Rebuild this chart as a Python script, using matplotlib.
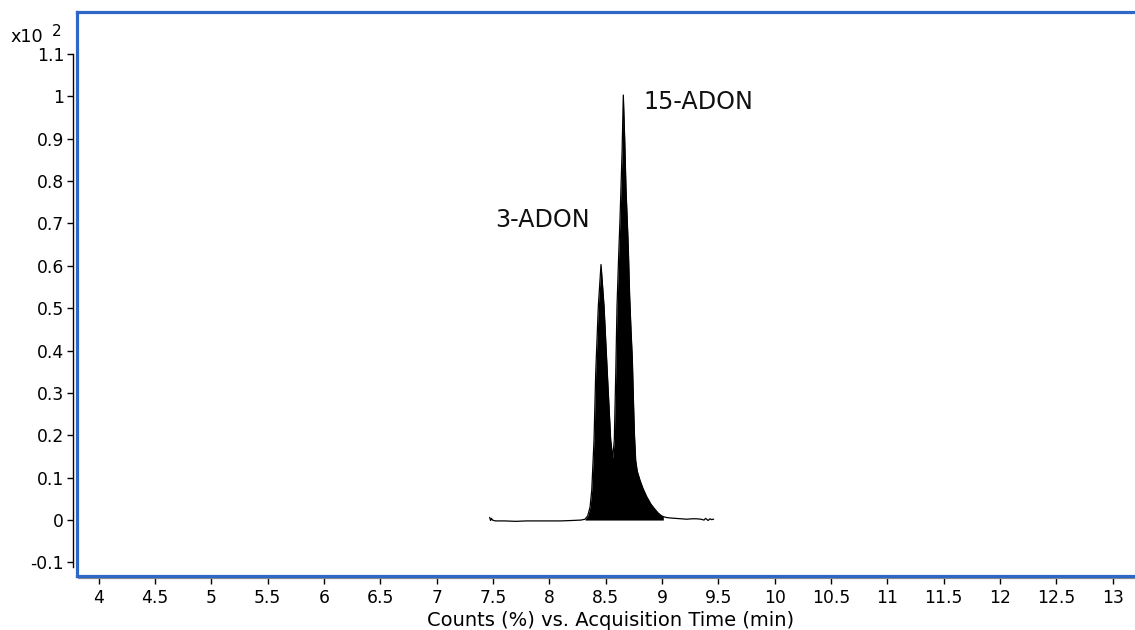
import matplotlib
matplotlib.use("Agg")
import matplotlib.pyplot as plt
from matplotlib.lines import Line2D
import numpy as np

plt.rcParams['font.family'] = ['DejaVu Sans']

# Chromatogram trace (acquisition time in min, counts in x10^2 %)
time_min = [7.470, 7.478, 7.486, 7.495, 7.520, 7.600, 7.700, 7.800, 7.900, 8.000,
            8.100, 8.200, 8.280, 8.316, 8.340, 8.361, 8.376, 8.396, 8.411, 8.434,
            8.458, 8.485, 8.514, 8.544, 8.562, 8.576, 8.589, 8.600, 8.615, 8.627,
            8.645, 8.656, 8.668, 8.680, 8.692, 8.700, 8.712, 8.724, 8.736, 8.746,
            8.755, 8.766, 8.780, 8.804, 8.830, 8.864, 8.900, 8.935, 8.964, 8.990,
            9.011, 9.040, 9.071, 9.120, 9.170, 9.219, 9.265, 9.308, 9.345, 9.373,
            9.386, 9.396, 9.408, 9.426, 9.440, 9.456]
counts = [0.006, -0.001, 0.004, 0.000, -0.002, -0.002, -0.003, -0.002, -0.002, -0.002,
          -0.002, -0.001, 0.000, 0.002, 0.010, 0.031, 0.071, 0.189, 0.347, 0.504,
          0.603, 0.504, 0.347, 0.189, 0.146, 0.189, 0.347, 0.504, 0.626, 0.713,
          0.869, 1.003, 0.900, 0.780, 0.700, 0.645, 0.530, 0.450, 0.380, 0.280,
          0.200, 0.140, 0.115, 0.094, 0.075, 0.055, 0.038, 0.026, 0.017, 0.011,
          0.008, 0.006, 0.005, 0.004, 0.003, 0.002, 0.003, 0.003, 0.002, 0.000,
          0.004, 0.002, -0.001, 0.003, 0.001, 0.002]
fill_start, fill_end = 8.316, 9.011

peak_names = ["3-ADON", "15-ADON"]
label_x = [7.943, 9.319]
label_y = [0.708, 0.987]

x_ticks = [4, 4.5, 5, 5.5, 6, 6.5, 7, 7.5, 8, 8.5, 9, 9.5, 10, 10.5, 11, 11.5, 12, 12.5, 13]
x_tick_labels = ["4", "4.5", "5", "5.5", "6", "6.5", "7", "7.5", "8", "8.5", "9", "9.5",
                 "10", "10.5", "11", "11.5", "12", "12.5", "13"]
y_ticks = [-0.1, 0, 0.1, 0.2, 0.3, 0.4, 0.5, 0.6, 0.7, 0.8, 0.9, 1.0, 1.1]
y_tick_labels = ["-0.1", "0", "0.1", "0.2", "0.3", "0.4", "0.5", "0.6", "0.7", "0.8",
                 "0.9", "1", "1.1"]

W, H = 1135, 630
fig = plt.figure(figsize=(W / 100, H / 100), dpi=100)
ax_left, ax_right, ax_top, ax_bottom = 77, 1140, 12, 576
ax = fig.add_axes([ax_left / W, 1 - ax_bottom / H, (ax_right - ax_left) / W, (ax_bottom - ax_top) / H])

t = np.array(time_min)
c = np.array(counts)
ax.plot(t, c, color='black', lw=0.9, zorder=3)
mask = (t >= fill_start) & (t <= fill_end)
ax.fill_between(t[mask], 0, c[mask], color='black', lw=0, zorder=2)

for name, lx, ly in zip(peak_names, label_x, label_y):
    ax.text(lx, ly, name, fontsize=17.2, ha='center', va='center', color='#111111')

ax.set_xlim(3.807, 13.242)
ax.set_ylim(-0.132, 1.199)

ax.set_xticks(x_ticks)
ax.set_xticklabels(x_tick_labels)
ax.set_yticks(y_ticks)
ax.set_yticklabels(y_tick_labels)

for s in ['top', 'right']:
    ax.spines[s].set_visible(False)
ax.spines['left'].set_position(('outward', 3.2))
ax.spines['left'].set_bounds(-0.11, 1.1)
ax.spines['left'].set_color('black')
ax.spines['left'].set_linewidth(1.0)
ax.spines['bottom'].set_position(('outward', 1.7))
ax.spines['bottom'].set_color('#8a8a8a')
ax.spines['bottom'].set_linewidth(1.6)
ax.spines['bottom'].set_bounds(3.825, 13.242)
ax.tick_params(axis='y', direction='out', length=4, width=1, color='black', pad=2,
               labelsize=12.3)
ax.tick_params(axis='x', direction='out', length=4.5, width=1, color='black', pad=3,
               labelsize=12.3)

blue = '#2f67c6'
for (xs, ys) in [([0, 0], [0, 1]), ([0, 1], [1, 1]), ([0, 1], [0, 0])]:
    ax.add_line(Line2D(xs, ys, transform=ax.transAxes, color=blue, lw=2.3,
                       solid_capstyle='projecting', clip_on=False, zorder=5))

fig.text(611 / W, 1 - 620 / H, "Counts (%) vs. Acquisition Time (min)", fontsize=14,
         ha='center', va='center')
fig.text(10 / W, 1 - 37 / H, "x10", fontsize=12.7, ha='left', va='center')
fig.text(52 / W, 1 - 32 / H, "2", fontsize=11, ha='left', va='center')

fig.savefig("out.png", dpi=100)
